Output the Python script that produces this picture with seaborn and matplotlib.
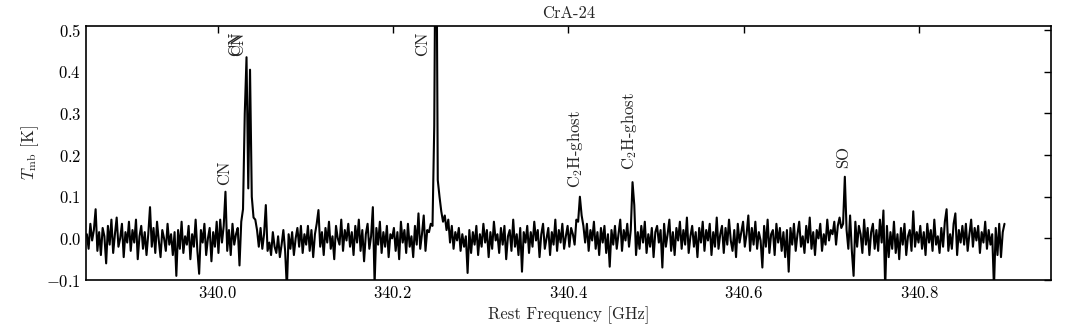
import numpy as np
import matplotlib
matplotlib.use("Agg")
import matplotlib.pyplot as plt
import seaborn as sns

# spectrum of CrA-24, channels every 2 MHz starting at 339.851 GHz
f_start = 339.851
f_step = 0.002

# T_mb in mK, one row per 25 channels
row00 = [10, -25, 35, -5, 20, 70, -30, 15, -40, 25, 5, -60, 30, -15, 45, -35, 10, 50, -20, 0, 35, -45, 15, -10, 40]
row01 = [-30, 20, -10, 45, -50, 5, 30, -25, 15, -40, 10, 75, -20, 25, -35, 40, -5, -45, 20, 0, -30, 35, -15, 10, -40]
row02 = [15, -90, 20, -25, 40, -35, 5, -15, 30, -50, 10, -20, 45, -30, -85, 20, -10, 35, -40, 0, 25, -55, 15, -20, 40]
row03 = [-35, 45, -10, 30, 112, -30, 20, -40, 35, -15, 10, 25, -65, 40, 70, 300, 435, 120, 405, 100, 50, 45, 20, -20, 25]
row04 = [-25, 10, 80, -30, -10, -40, 15, -20, -35, 5, -45, -15, 20, -30, -120, 10, -25, 15, -40, 0, 25, -20, 30, -35, 10]
row05 = [-15, 30, -30, 20, -45, 10, 35, 68, -20, 15, -40, 25, -10, 40, -25, 5, -50, 30, 0, -15, 45, -30, 20, -5, 35]
row06 = [-20, 15, -40, 30, -10, 45, -30, 20, -55, 10, 35, -25, 5, 75, -110, 25, -15, 40, -35, 15, -20, 30, -45, 10, 0]
row07 = [25, -30, 15, -50, 40, -10, 20, -35, 35, -20, 5, -45, 30, -15, 60, -25, 10, 55, -30, 20, 15, 35, 30, 270, 950]
row08 = [140, 100, 65, 40, 55, 20, 45, -10, 30, -25, 15, -5, 25, -30, 10, -20, 5, -83, 20, -35, 15, -15, 30, -40, 10]
row09 = [-20, 35, -10, 20, -45, 15, -25, 40, -5, 10, -35, 25, -15, 30, -50, 5, 20, -30, 45, -20, 10, -40, 25, -80, 15]
row10 = [-10, 30, -35, 15, -20, 40, -5, 20, -45, 10, 35, -25, 0, 25, -40, 15, -15, 45, -30, 20, -10, 35, -25, 5, 30]
row11 = [-20, 25, 10, -15, 45, 40, 100, 55, 30, -10, 35, -30, 20, -5, 40, -25, 15, -40, 25, -10, 30, -35, 10, -68, 20]
row12 = [-15, 30, -25, 10, 45, -30, 20, -5, 35, -20, 20, 135, 80, -40, 15, -25, 30, -10, 40, -35, 10, -20, 25, -45, 15]
row13 = [30, -10, 20, -70, 35, -20, 10, 45, -30, 15, -40, 25, -5, 40, -25, 20, -15, 50, -35, 5, 30, -20, 15, -45, 25]
row14 = [-10, 40, -30, 20, -5, 35, -40, 15, -20, 50, -25, 10, 30, -35, 25, -15, 45, -5, -30, 20, -45, 35, -10, 15, 40]
row15 = [-20, 10, 55, -30, 25, -15, 40, -25, 15, -5, -70, 30, -20, 45, -35, 10, 20, -40, 35, -10, 25, -30, 15, -45, 20]
row16 = [-80, 25, -15, 35, -30, 10, 40, -20, 5, -35, 30, -10, 50, -25, 15, -40, 20, 0, 35, -30, 10, -15, 45, -5, 20]
row17 = [10, 40, -15, 30, 50, 25, 35, 148, 20, -25, 55, -30, -90, 40, -20, 30, 10, -35, 45, -15, 25, -40, 15, 35, -25]
row18 = [20, -30, 45, -10, 67, -120, 30, -45, 15, -25, 40, -35, 10, -50, 25, -15, 35, -40, 5, 20, -30, 65, -20, 15, -10]
row19 = [30, -25, 15, -40, 35, -10, 20, -30, 45, -15, 5, -35, 25, -20, 40, 70, -30, 10, -25, 35, 60, -40, 20, -10, 30]
row20 = [-15, 35, -30, 10, 45, -20, 25, -5, 30, -35, 15, -10, 40, -25, 20, -15, 10, -120, 25, -40, 35, -45, 15, 35]

rows = [row00, row01, row02, row03, row04, row05, row06, row07, row08, row09, row10,
        row11, row12, row13, row14, row15, row16, row17, row18, row19, row20]
tmb = np.concatenate(rows) / 1000.0
freq = f_start + f_step * np.arange(len(tmb))

# line identifications
line_names = ["CN", "CN", "CN", "CN", "C$_2$H-ghost", "C$_2$H-ghost", "SO"]
line_freqs = [340.008, 340.0205, 340.0235, 340.2335, 340.408, 340.4695, 340.7135]
label_y = [0.127, 0.438, 0.438, 0.438, 0.12, 0.163, 0.168]

sns.set_style("white")
plt.rcParams.update({
    "font.family": "serif",
    "font.serif": ["cmr10"],
    "mathtext.fontset": "cm",
    "axes.formatter.use_mathtext": True,
    "font.size": 12,
    "axes.unicode_minus": True,
})

fig = plt.figure(figsize=(10.72, 3.31), dpi=100)
ax = fig.add_axes([0.0802, 0.154, 0.9002, 0.7675])

sns.lineplot(x=freq, y=tmb, color="black", lw=1.5, estimator=None, ax=ax)

for name, f, yv in zip(line_names, line_freqs, label_y):
    ax.text(f, yv, name, rotation=90, ha="center", va="bottom", fontsize=12)

ax.set_xlim(339.85, 340.95)
ax.set_ylim(-0.1, 0.51)
ax.set_xticks([340.0, 340.2, 340.4, 340.6, 340.8])
ax.set_yticks([-0.1, 0.0, 0.1, 0.2, 0.3, 0.4, 0.5])
ax.tick_params(direction="in", top=True, right=True, length=5, width=1, labelsize=12, colors="black")
for s in ax.spines.values():
    s.set_color("black")
    s.set_linewidth(1.2)

ax.set_xlabel("Rest Frequency [GHz]", fontsize=12)
ax.set_ylabel(r"$T_{\rm mb}$ [K]", fontsize=12)
ax.set_title("CrA-24", fontsize=12)

fig.savefig("out.png", dpi=100)
